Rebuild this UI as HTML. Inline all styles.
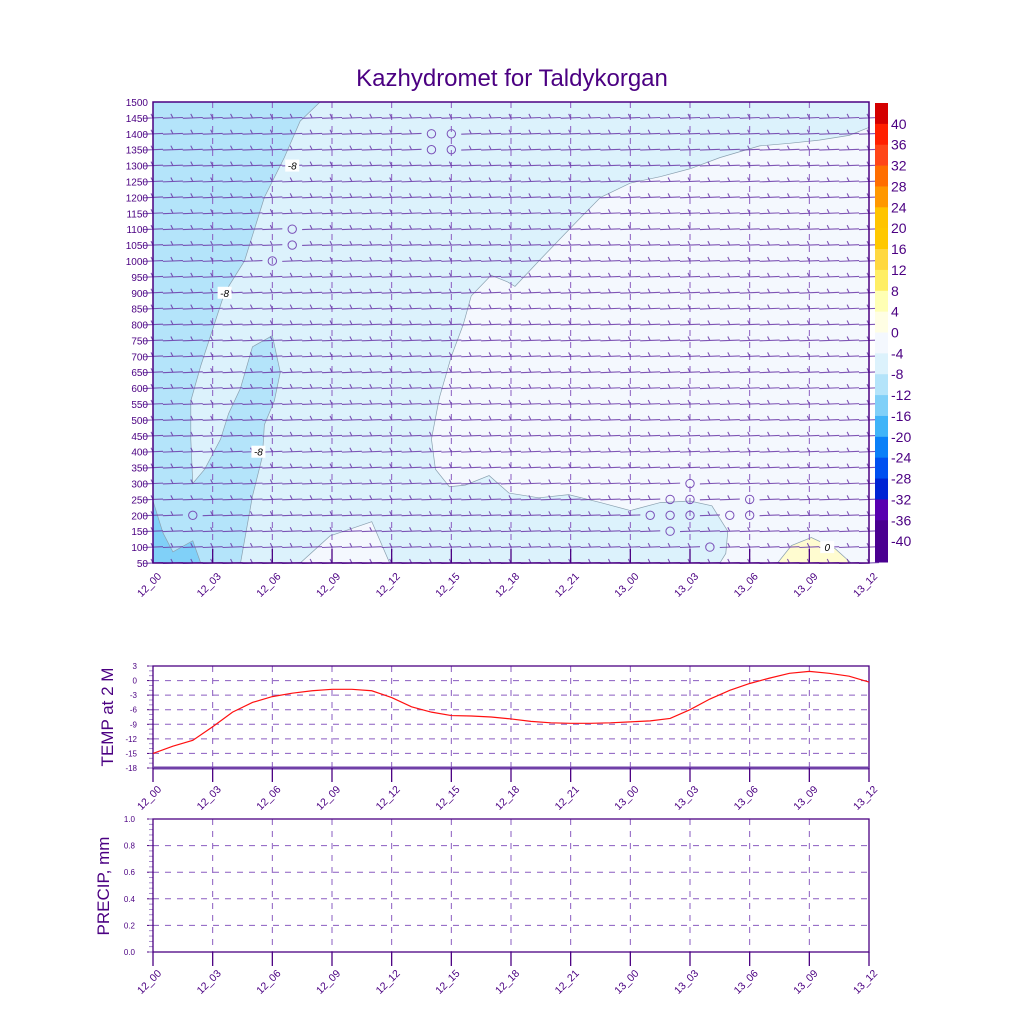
<!DOCTYPE html>
<html><head><meta charset="utf-8"><style>
body{margin:0;background:#fff}
svg{display:block;font-family:"Liberation Sans",sans-serif}
</style></head><body>
<svg id="c" width="1024" height="1024" viewBox="0 0 1024 1024" xmlns="http://www.w3.org/2000/svg">
<text x="512" y="86" text-anchor="middle" font-size="24" fill="#4b0082">Kazhydromet for Taldykorgan</text>
<g id="main"></g>
<g id="cbar"></g>
<g id="temp"></g>
<g id="prec"></g>
</svg>
<script>
// ---- data ----
const timeLabels = ["12_00","12_03","12_06","12_09","12_12","12_15","12_18","12_21","13_00","13_03","13_06","13_09","13_12"];
const levels = [1500,1450,1400,1350,1300,1250,1200,1150,1100,1050,1000,950,900,850,800,750,700,650,600,550,500,450,400,350,300,250,200,150,100,50];
const tempHours = [0,1,2,3,4,5,6,7,8,9,10,11,12,13,14,15,16,17,18,19,20,21,22,23,24,25,26,27,28,29,30,31,32,33,34,35,36];
const temp2m = [-15,-13.5,-12.3,-9.5,-6.5,-4.5,-3.3,-2.6,-2.1,-1.8,-1.8,-2.1,-3.5,-5.4,-6.5,-7.2,-7.3,-7.5,-7.9,-8.4,-8.7,-8.8,-8.8,-8.7,-8.5,-8.3,-7.8,-6,-3.8,-2,-0.6,0.5,1.5,1.9,1.5,0.9,-0.3];
const tempTicks = [3,0,-3,-6,-9,-12,-15,-18];
const precTicks = [1.0,0.8,0.6,0.4,0.2,0.0];
const precip = [0,0,0,0,0,0,0,0,0,0,0,0,0,0,0,0,0,0,0,0,0,0,0,0,0,0,0,0,0,0,0,0,0,0,0,0,0];
const calmHours = [14,15,14,15,7,7,6,2,27,26,27,30,25,26,27,29,30,26,28];
const calmLevels = [1400,1400,1350,1350,1100,1050,1000,200,300,250,250,250,200,200,200,200,200,150,100];
const cbarLabels = [40,36,32,28,24,20,16,12,8,4,0,-4,-8,-12,-16,-20,-24,-28,-32,-36,-40];
const cbarColors = ["#d40000","#ff2000","#ff4618","#ff6e00","#ff9800","#ffc400","#ffc800","#ffd840","#ffee64","#ffffb4","#fffee4","#f4f8fe","#dcf2fc","#b4e4fa","#80d0f8","#40b4f8","#0a80f8","#0050f0","#0024d4","#5800b0","#4a0090"];
// contour polygons in (hour, pressure) space
const regLight = [[0,1500],[36,1500],[36,1420],[35,1395],[33.5,1380],[32,1370],[30.5,1362],[28.5,1325],[27,1290],[25.5,1265],[24,1245],[22.5,1200],[21.4,1130],[20.4,1065],[19.4,1000],[18.2,920],[17.8,935],[17,955],[16,890],[15.6,800],[15,700],[14.4,570],[14,440],[14.2,345],[14.9,290],[15.7,295],[16.9,325],[17.9,270],[19.4,255],[20.9,265],[22.5,240],[24,215],[25.5,240],[27,245],[28.1,230],[28.9,150],[28.8,80],[28.5,50],[11.9,50],[11,180],[8.9,135],[7.4,50],[0,50]];
const regMid = [[0,1500],[8.4,1500],[7.4,1440],[6.6,1325],[5.6,1200],[4.6,1000],[3.6,900],[2.4,670],[1.9,560],[1.9,440],[2.0,300],[2.6,345],[3.4,440],[3.8,520],[4.4,600],[5.0,730],[6.0,765],[6.4,650],[6.1,560],[5.6,485],[5.5,385],[5.0,260],[4.6,120],[4.4,50],[0,50]];
const regDeep = [[0,245],[0.5,145],[1,85],[2,120],[2.4,50],[0,50]];
const regYellow = [[31.4,50],[32.1,105],[33.1,130],[34.3,95],[35.1,50]];
</script>
<script>
const NS="http://www.w3.org/2000/svg";
function mk(p,tag,at){const e=document.createElementNS(NS,tag);for(const k in at)e.setAttribute(k,at[k]);p.appendChild(e);return e;}
const IND="#4b0082";
const X0=153,X1=869,Y0=102,Y1=563;
const xh=h=>X0+(X1-X0)*h/36;
const yp=p=>Y1-(Y1-Y0)*(p-50)/1450;
const main=document.getElementById('main');
mk(main,'rect',{x:X0,y:Y0,width:X1-X0,height:Y1-Y0,fill:"#f4f8fe"});
function poly(pts,fill,name){const e=mk(main,'polygon',{points:pts.map(q=>xh(q[0])+","+yp(q[1])).join(" "),fill:fill,stroke:"#8aa0b0","stroke-width":0.7});

}
poly(regLight,"#dcf2fc","contour-region-minus4-minus8");
poly(regMid,"#b4e4fa","contour-region-minus8-minus12");
poly(regDeep,"#80d0f8","contour-region-minus12-minus16");
poly(regYellow,"#fffcd0","contour-region-0-4");
for(let i=0;i<timeLabels.length;i++){const x=xh(i*3);
 mk(main,'line',{x1:x,y1:Y0,x2:x,y2:Y1,stroke:"#8a5cc0","stroke-width":1,"stroke-dasharray":"6,6"});}
const calm=new Set(calmHours.map((h,i)=>h+"_"+calmLevels[i]));
for(const p of levels){ if(p===1500) continue; const y=yp(p);
 for(let h=0;h<=36;h++){ const x=xh(h);
  if(calm.has(h+"_"+p)){
   const c=mk(main,'circle',{cx:x,cy:y,r:4.2,fill:"none",stroke:"#7a50b8","stroke-width":1});
   
   
   continue;}
  const b=mk(main,'path',{d:`M${x-10},${y+0.4}L${x+10},${y-0.4}M${x},${y}l-2,-4`,stroke:"#6a38a8","stroke-width":1.1,fill:"none","stroke-opacity":0.85});
  
  
 }}
[[7,1300,"-8"],[3.6,900,"-8"],[5.3,400,"-8"],[33.9,100,"0"]].forEach(l=>{
 const x=xh(l[0]),y=yp(l[1]);
 mk(main,'rect',{x:x-7,y:y-6,width:14,height:12,fill:"#fff"});
 const t=mk(main,'text',{x:x,y:y+4,"text-anchor":"middle","font-size":10,fill:"#000","font-style":"italic"});t.textContent=l[2];
 
 });
mk(main,'rect',{x:X0,y:Y0,width:X1-X0,height:Y1-Y0,fill:"none",stroke:IND,"stroke-width":1.5});
levels.forEach(p=>{const y=yp(p);
 const t=mk(main,'text',{x:X0-5,y:y+4,"text-anchor":"end","font-size":10,fill:IND});t.textContent=p;
 
 });
function xlabels(g,yb,tickIn){
 timeLabels.forEach((s,i)=>{const x=xh(i*3);
  if(tickIn) mk(g,'line',{x1:x,y1:yb,x2:x,y2:yb-14,stroke:IND,"stroke-width":1.3});
  else mk(g,'line',{x1:x,y1:yb,x2:x,y2:yb+14,stroke:IND,"stroke-width":1.3});
  const t=mk(g,'text',{x:0,y:0,"text-anchor":"end","font-size":10.5,fill:IND,transform:`translate(${x+9},${yb+(tickIn?14:22)}) rotate(-45)`});t.textContent=s;
  
  });}
xlabels(main,Y1,true);
const cb=document.getElementById('cbar');
const CB0=103,CBH=459/22;
for(let i=0;i<22;i++){
 const r=mk(cb,'rect',{x:875,y:CB0+i*CBH,width:13,height:CBH+0.5,fill:i===21?"#4a0090":(i===0?"#d40000":cbarColors[Math.min(i,20)])});
 
 }
cbarLabels.forEach((v,i)=>{const t=mk(cb,'text',{x:891,y:CB0+(i+1)*CBH+5,"font-size":14,fill:IND});t.textContent=v;
 
 });
const tg=document.getElementById('temp');
const TY0=666,TY1=768;
const yt=v=>TY1-(TY1-TY0)*(v+18)/21;
tempTicks.forEach(v=>{const y=yt(v);
 if(v!==3&&v!==-18) mk(tg,'line',{x1:X0,y1:y,x2:X1,y2:y,stroke:"#8a5cc0","stroke-width":1,"stroke-dasharray":"6,6"});
 mk(tg,'line',{x1:X0-6,y1:y,x2:X0,y2:y,stroke:IND,"stroke-width":1});
 const t=mk(tg,'text',{x:X0-16,y:y+3,"text-anchor":"end","font-size":8,fill:IND});t.textContent=v;
 
 });
for(let v=-18;v<=3;v++){mk(tg,'line',{x1:X0-4,y1:yt(v),x2:X0,y2:yt(v),stroke:"#9070c0","stroke-width":0.8});}
for(let i=1;i<12;i++){const x=xh(i*3);mk(tg,'line',{x1:x,y1:TY0,x2:x,y2:TY1,stroke:"#8a5cc0","stroke-width":1,"stroke-dasharray":"6,6"});}
mk(tg,'rect',{x:X0,y:TY0,width:X1-X0,height:TY1-TY0,fill:"none",stroke:IND,"stroke-width":1.3});
mk(tg,'line',{x1:X0,y1:TY1,x2:X1,y2:TY1,stroke:"#7040a8","stroke-width":3});
const tl=mk(tg,'polyline',{points:tempHours.map((h,i)=>xh(h)+","+yt(temp2m[i])).join(" "),fill:"none",stroke:"#ff1010","stroke-width":1.2});


xlabels(tg,TY1,false);
const tt=mk(tg,'text',{x:0,y:0,"text-anchor":"middle","font-size":17,fill:IND,transform:"translate(113,717) rotate(-90)"});tt.textContent="TEMP at 2 M";


const pg=document.getElementById('prec');
const PY0=819,PY1=952;
const ypr=v=>PY1-(PY1-PY0)*v;
precTicks.forEach(v=>{const y=ypr(v);
 if(v!==1&&v!==0) mk(pg,'line',{x1:X0,y1:y,x2:X1,y2:y,stroke:"#8a5cc0","stroke-width":1,"stroke-dasharray":"6,6"});
 mk(pg,'line',{x1:X0-6,y1:y,x2:X0,y2:y,stroke:IND,"stroke-width":1});
 const t=mk(pg,'text',{x:X0-18,y:y+3,"text-anchor":"end","font-size":8,fill:IND});t.textContent=v.toFixed(1);
 
 });
for(let k=0;k<=25;k++){mk(pg,'line',{x1:X0-4,y1:ypr(k/25),x2:X0,y2:ypr(k/25),stroke:"#9070c0","stroke-width":0.8});}
for(let i=1;i<12;i++){const x=xh(i*3);mk(pg,'line',{x1:x,y1:PY0,x2:x,y2:PY1,stroke:"#8a5cc0","stroke-width":1,"stroke-dasharray":"6,6"});}
precip.forEach((v,i)=>{if(v>0){const r=mk(pg,'rect',{x:xh(tempHours[i])-3,y:ypr(v),width:6,height:PY1-ypr(v),fill:"#40a0ff"});
 
 }});
mk(pg,'rect',{x:X0,y:PY0,width:X1-X0,height:PY1-PY0,fill:"none",stroke:IND,"stroke-width":1.3});
xlabels(pg,PY1,false);
const pt=mk(pg,'text',{x:0,y:0,"text-anchor":"middle","font-size":17,fill:IND,transform:"translate(109,886) rotate(-90)"});pt.textContent="PRECIP, mm";


</script>
</body></html>
